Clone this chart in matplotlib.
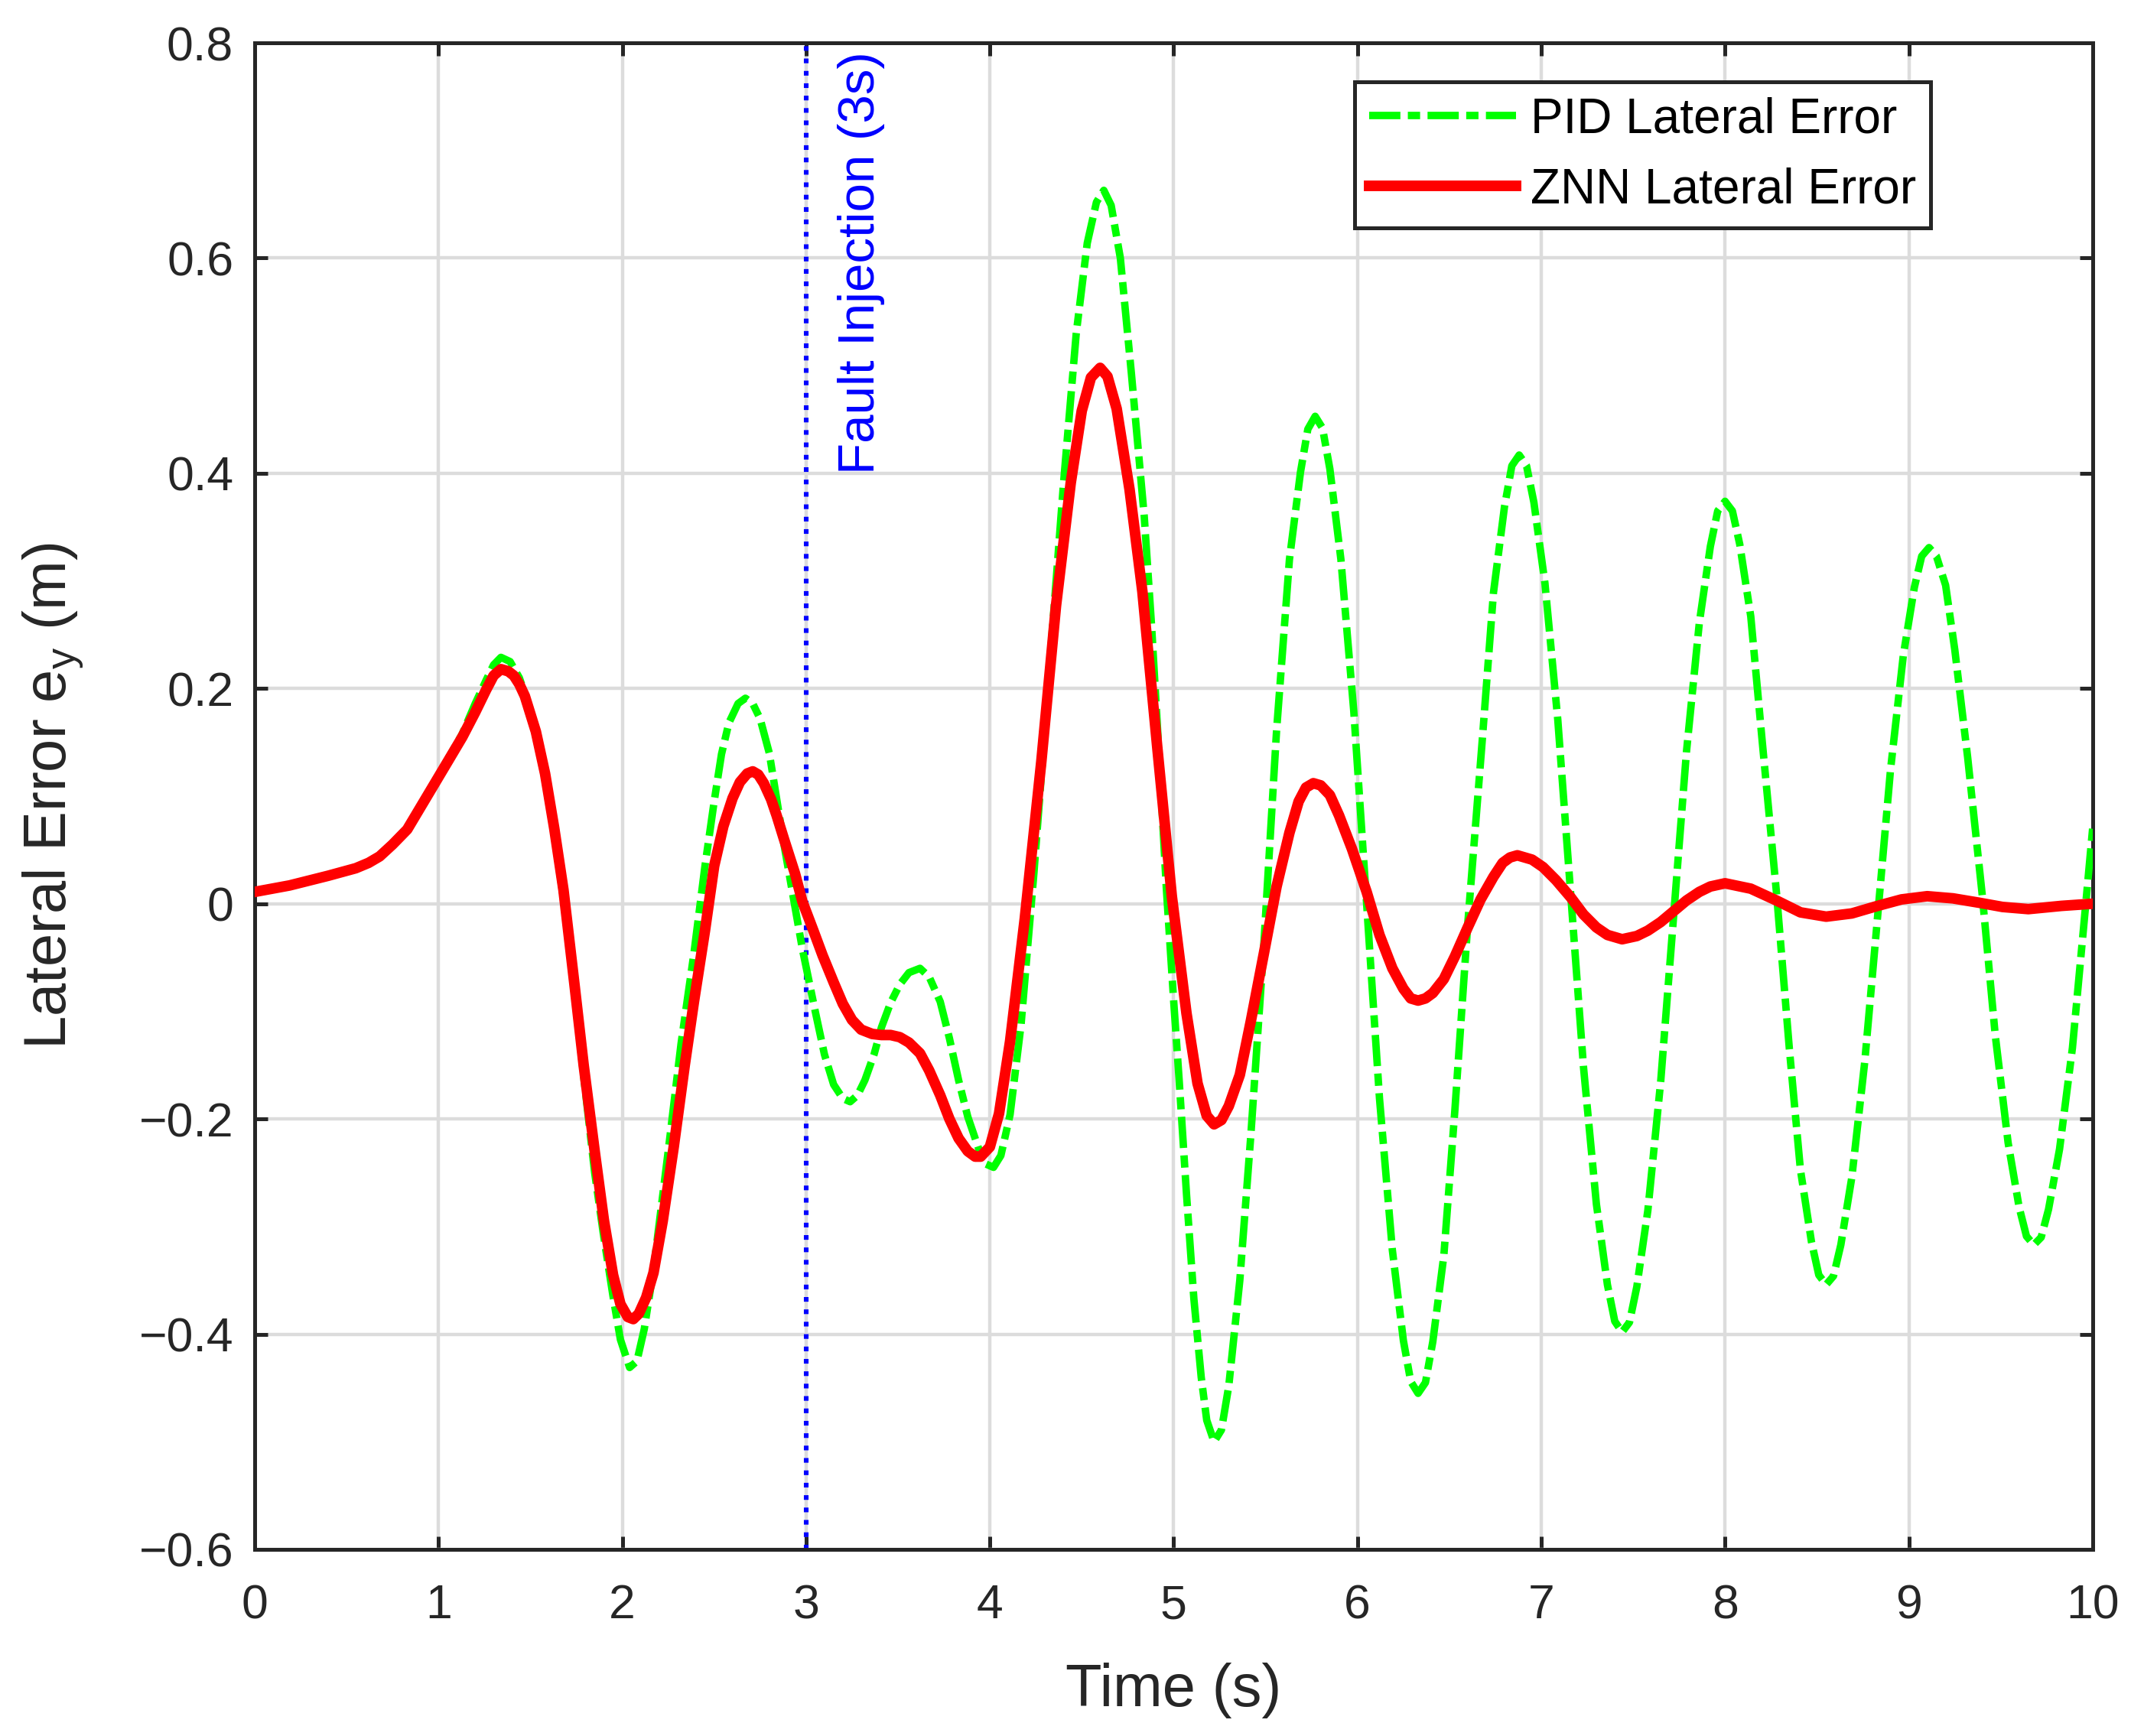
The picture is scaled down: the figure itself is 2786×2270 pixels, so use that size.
import matplotlib
matplotlib.use("Agg")
import matplotlib.pyplot as plt

plt.rcParams['font.family'] = ['Liberation Sans', 'DejaVu Sans']
plt.rcParams['mathtext.default'] = 'regular'

# PID lateral error (green dash-dot)
pid_t = [0, 0.2, 0.4, 0.55, 0.62, 0.68, 0.75, 0.83, 0.9, 0.98, 1.05, 1.13, 1.2, 1.26,
         1.3, 1.34, 1.39, 1.44, 1.5, 1.55, 1.58, 1.63, 1.68, 1.74,
         1.79, 1.85, 1.9, 1.95, 1.99, 2.04, 2.08, 2.12, 2.17, 2.25,
         2.32, 2.39, 2.45, 2.5, 2.54, 2.58, 2.63, 2.67, 2.71, 2.75,
         2.8, 2.88, 2.98, 3.05, 3.1, 3.15, 3.2, 3.24, 3.28, 3.32,
         3.37, 3.41, 3.46, 3.51, 3.56, 3.62, 3.67, 3.73, 3.78, 3.83,
         3.88, 3.94, 3.98, 4.02, 4.06, 4.11, 4.17, 4.24, 4.32, 4.4,
         4.47, 4.53, 4.58, 4.62, 4.66, 4.71, 4.77, 4.84, 4.88, 4.92,
         4.96, 5.0, 5.03, 5.07, 5.11, 5.15, 5.18, 5.22, 5.26, 5.3,
         5.36, 5.42, 5.49, 5.56, 5.63, 5.69, 5.73, 5.77, 5.81, 5.85,
         5.91, 5.98, 6.05, 6.12, 6.19, 6.25, 6.29, 6.33, 6.37, 6.41,
         6.47, 6.53, 6.6, 6.68, 6.74, 6.8, 6.84, 6.88, 6.92, 6.96,
         7.02, 7.09, 7.16, 7.23, 7.3, 7.36, 7.4, 7.44, 7.48, 7.52,
         7.58, 7.65, 7.72, 7.79, 7.86, 7.92, 7.96, 8.0, 8.04, 8.08,
         8.14, 8.2, 8.28, 8.35, 8.41, 8.47, 8.51, 8.55, 8.59, 8.63,
         8.69, 8.76, 8.83, 8.9, 8.97, 9.03, 9.07, 9.11, 9.15, 9.2,
         9.25, 9.32, 9.4, 9.47, 9.54, 9.6, 9.64, 9.68, 9.72, 9.76,
         9.82, 9.89, 9.96, 10.0]
pid_e = [0.010, 0.018, 0.026, 0.033, 0.039, 0.045, 0.056, 0.070, 0.090, 0.113, 0.134, 0.158, 0.186, 0.208,
         0.222, 0.229, 0.225, 0.210, 0.180, 0.145, 0.120, 0.065, 0.005, -0.080,
         -0.160, -0.250, -0.310, -0.365, -0.405, -0.431, -0.425, -0.395, -0.340, -0.230,
         -0.130, -0.046, 0.035, 0.095, 0.139, 0.168, 0.186, 0.191, 0.186, 0.172,
         0.140, 0.055, -0.042, -0.100, -0.140, -0.168, -0.181, -0.184, -0.178, -0.164,
         -0.140, -0.115, -0.092, -0.075, -0.064, -0.060, -0.068, -0.091, -0.125, -0.164,
         -0.198, -0.228, -0.242, -0.245, -0.234, -0.196, -0.112, 0.029, 0.209, 0.389,
         0.530, 0.614, 0.652, 0.663, 0.649, 0.600, 0.493, 0.360, 0.258, 0.140,
         0.015, -0.090, -0.164, -0.270, -0.367, -0.440, -0.480, -0.500, -0.489, -0.448,
         -0.350, -0.215, -0.040, 0.161, 0.320, 0.401, 0.441, 0.453, 0.442, 0.404,
         0.320, 0.179, 0.0, -0.181, -0.322, -0.406, -0.444, -0.455, -0.445, -0.407,
         -0.327, -0.192, -0.019, 0.154, 0.289, 0.369, 0.407, 0.417, 0.407, 0.373,
         0.298, 0.171, 0.010, -0.152, -0.279, -0.354, -0.388, -0.398, -0.389, -0.356,
         -0.285, -0.165, -0.012, 0.141, 0.261, 0.332, 0.365, 0.374, 0.365, 0.334,
         0.267, 0.155, 0.010, -0.135, -0.247, -0.314, -0.345, -0.354, -0.346, -0.317,
         -0.254, -0.147, -0.012, 0.124, 0.231, 0.294, 0.323, 0.331, 0.323, 0.296,
         0.236, 0.136, 0.007, -0.122, -0.222, -0.282, -0.309, -0.317, -0.310, -0.284,
         -0.228, -0.134, -0.005, 0.070]

# ZNN lateral error (red solid)
znn_t = [0, 0.19, 0.4, 0.55, 0.62, 0.68, 0.75, 0.83, 0.9, 0.98, 1.05, 1.13, 1.2, 1.26,
         1.3, 1.34, 1.38, 1.41, 1.44, 1.47, 1.53, 1.58, 1.63, 1.68,
         1.74, 1.79, 1.85, 1.9, 1.95, 1.99, 2.03, 2.06, 2.09, 2.13,
         2.17, 2.22, 2.28, 2.34, 2.39, 2.45, 2.5, 2.55, 2.6, 2.64,
         2.68, 2.71, 2.74, 2.77, 2.81, 2.84, 2.88, 2.94, 2.98, 3.04,
         3.09, 3.15, 3.2, 3.25, 3.3, 3.36, 3.41, 3.46, 3.51, 3.56,
         3.62, 3.67, 3.73, 3.78, 3.83, 3.88, 3.92, 3.95, 4.0, 4.05,
         4.11, 4.19, 4.28, 4.36, 4.44, 4.5, 4.55, 4.6, 4.64, 4.69,
         4.76, 4.83, 4.91, 4.99, 5.07, 5.13, 5.18, 5.22, 5.26, 5.3,
         5.36, 5.42, 5.49, 5.56, 5.63, 5.68, 5.72, 5.76, 5.8, 5.85,
         5.9, 5.97, 6.05, 6.12, 6.19, 6.25, 6.29, 6.33, 6.37, 6.41,
         6.47, 6.53, 6.6, 6.67, 6.74, 6.79, 6.83, 6.87, 6.95, 7.01,
         7.08, 7.16, 7.23, 7.3, 7.36, 7.44, 7.52, 7.58, 7.65, 7.72,
         7.79, 7.86, 7.92, 8.0, 8.14, 8.28, 8.41, 8.55, 8.69, 8.83,
         8.96, 9.1, 9.24, 9.38, 9.51, 9.65, 9.83, 10.0]
znn_e = [0.011, 0.017, 0.026, 0.033, 0.038, 0.044, 0.055, 0.069, 0.089, 0.112, 0.132, 0.155, 0.178, 0.199,
         0.212, 0.218, 0.216, 0.212, 0.204, 0.193, 0.160, 0.121, 0.070, 0.013,
         -0.075, -0.150, -0.230, -0.294, -0.345, -0.372, -0.384, -0.386, -0.381, -0.366,
         -0.343, -0.295, -0.226, -0.150, -0.091, -0.025, 0.035, 0.072, 0.098, 0.113,
         0.121, 0.123, 0.120, 0.112, 0.097, 0.082, 0.060, 0.028, 0.002, -0.025,
         -0.048, -0.073, -0.093, -0.108, -0.117, -0.121, -0.122, -0.122, -0.124, -0.129,
         -0.139, -0.155, -0.178, -0.200, -0.218, -0.230, -0.235, -0.235, -0.226, -0.195,
         -0.128, -0.014, 0.132, 0.277, 0.391, 0.458, 0.489, 0.498, 0.490, 0.460,
         0.385, 0.290, 0.147, 0.007, -0.102, -0.167, -0.197, -0.205, -0.201, -0.188,
         -0.159, -0.109, -0.047, 0.016, 0.066, 0.095, 0.108, 0.112, 0.110, 0.101,
         0.082, 0.051, 0.011, -0.029, -0.060, -0.079, -0.088, -0.090, -0.088, -0.083,
         -0.070, -0.049, -0.022, 0.004, 0.025, 0.038, 0.043, 0.045, 0.041, 0.034,
         0.022, 0.006, -0.010, -0.022, -0.029, -0.033, -0.030, -0.025, -0.017, -0.007,
         0.003, 0.011, 0.016, 0.019, 0.014, 0.003, -0.008, -0.012, -0.009, -0.002,
         0.004, 0.007, 0.005, 0.001, -0.003, -0.005, -0.002, 0.0]

fault_time = 3
x_ticks = [0, 1, 2, 3, 4, 5, 6, 7, 8, 9, 10]
y_ticks = [-0.6, -0.4, -0.2, 0, 0.2, 0.4, 0.6, 0.8]
y_labels = ['\u22120.6', '\u22120.4', '\u22120.2', '0', '0.2', '0.4', '0.6', '0.8']

AX_COLOR = '#262626'

fig = plt.figure(figsize=(13.93, 11.35), dpi=200)
ax = fig.add_axes([0.1195, 0.1075, 0.8625, 0.8678])

ax.plot(pid_t, pid_e, color='#00ff00', lw=3.5, dashes=(4.2, 1.0, 1.65, 1.0),
        label='PID Lateral Error', zorder=3)
ax.plot(znn_t, znn_e, color='#ff0000', lw=5, solid_joinstyle='round',
        label='ZNN Lateral Error', zorder=4)
ax.axvline(fault_time, color='#0000ff', lw=2.2, linestyle=':', zorder=2)
ax.text(fault_time + 0.17, 0.792, 'Fault Injection (3s)', rotation=90, color='#0000ff',
        fontsize=24.2, ha='left', va='top')

ax.set_xlim(0, 10)
ax.set_ylim(-0.6, 0.8)
ax.set_xticks(x_ticks)
ax.set_yticks(y_ticks)
ax.set_yticklabels(y_labels)
ax.grid(True, color='#dcdcdc', lw=1.6)
ax.set_axisbelow(True)

ax.tick_params(direction='in', length=6, width=1.8, top=True, right=True,
               labelsize=22.5, colors=AX_COLOR)
ax.tick_params(axis='x', pad=16)
ax.tick_params(axis='y', pad=10)
for s in ax.spines.values():
    s.set_linewidth(1.8)
    s.set_color(AX_COLOR)

ax.set_xlabel('Time (s)', fontsize=28, color=AX_COLOR, labelpad=16)
ax.set_ylabel('Lateral Error e$_y$ (m)', fontsize=28, color=AX_COLOR)
ax.yaxis.set_label_coords(-0.092, 0.5)

leg = ax.legend(loc='upper right', bbox_to_anchor=(0.912, 0.974), fontsize=23,
                handlelength=3.0, handletextpad=0.3, labelspacing=0.5, borderpad=0.3,
                borderaxespad=0, fancybox=False, framealpha=1)
leg.get_frame().set_edgecolor('#262626')
leg.get_frame().set_linewidth(1.8)

fig.savefig('out.png', dpi=200)
